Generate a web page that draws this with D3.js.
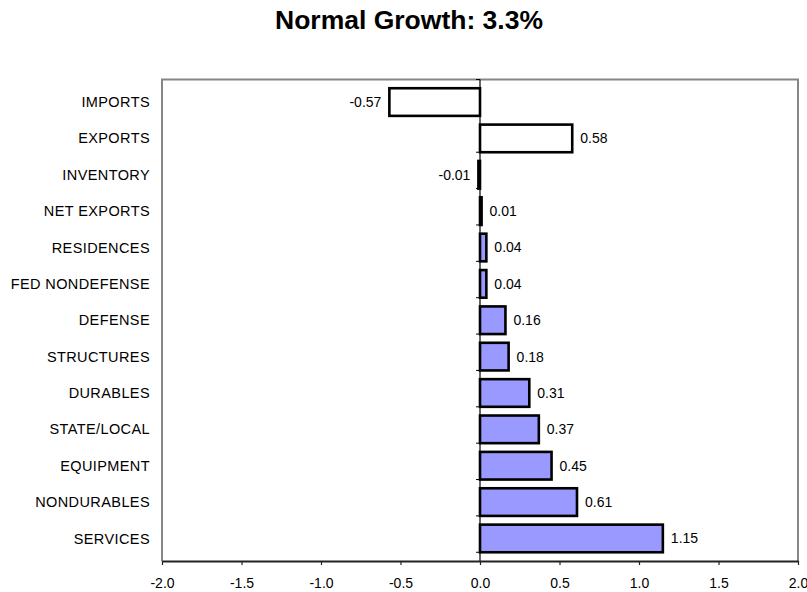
<!DOCTYPE html>
<html>
<head>
<meta charset="utf-8">
<script src="https://cdn.jsdelivr.net/npm/d3@7/dist/d3.min.js"></script>
<style>
  html, body { margin: 0; padding: 0; background: #fff; }
  svg { display: block; font-family: "Liberation Sans", Arial, sans-serif; }
</style>
</head>
<body>
<svg id="chart" width="807" height="592"></svg>
<script>
// Contributions to growth, listed top to bottom
const categories = ["IMPORTS", "EXPORTS", "INVENTORY", "NET EXPORTS", "RESIDENCES",
  "FED NONDEFENSE", "DEFENSE", "STRUCTURES", "DURABLES", "STATE/LOCAL",
  "EQUIPMENT", "NONDURABLES", "SERVICES"];
const values = [-0.57, 0.58, -0.01, 0.01, 0.04, 0.04, 0.16, 0.18, 0.31, 0.37, 0.45, 0.61, 1.15];
const tradeItems = ["IMPORTS", "EXPORTS"];
const xTicks = [-2.0, -1.5, -1.0, -0.5, 0.0, 0.5, 1.0, 1.5, 2.0];
const title = "Normal Growth: 3.3%";

const svg = d3.select("#chart");
const plot = { left: 162, right: 798, top: 79.5, bottom: 561 };

// plain hyphen for negatives
const fmt2 = v => d3.format(".2f")(v).replace("\u2212", "-");
const fmt1 = v => d3.format(".1f")(v).replace("\u2212", "-");

const x = d3.scaleLinear().domain([-2, 2]).range([plot.left, plot.right]);
const y = d3.scaleBand().domain(categories).range([plot.top, plot.bottom]).padding(0.24);

// Title
svg.append("text")
  .attr("x", 409).attr("y", 29)
  .attr("text-anchor", "middle")
  .style("font-size", "26.5px").style("font-weight", "bold")
  .text(title);

// Plot frame (top, left, right)
svg.append("path")
  .attr("d", `M${plot.left},${plot.bottom} V${plot.top} H${plot.right} V${plot.bottom}`)
  .attr("fill", "none").attr("stroke", "#868686").attr("stroke-width", 2);

// Category axis along zero, ticks at band boundaries
const zeroAxis = svg.append("g");
zeroAxis.append("line")
  .attr("x1", x(0)).attr("x2", x(0))
  .attr("y1", plot.top).attr("y2", plot.bottom)
  .attr("stroke", "#000").attr("stroke-width", 1.2);
const step = y.step();
zeroAxis.selectAll("line.tk")
  .data(d3.range(categories.length + 1))
  .join("line").attr("class", "tk")
  .attr("x1", x(0) - 4).attr("x2", x(0))
  .attr("y1", i => plot.top + i * step).attr("y2", i => plot.top + i * step)
  .attr("stroke", "#000").attr("stroke-width", 1);

// Bars
svg.append("g").selectAll("rect")
  .data(categories.map((c, i) => ({ c, v: values[i] })))
  .join("rect")
  .attr("x", d => x(Math.min(0, d.v)))
  .attr("y", d => y(d.c))
  .attr("width", d => Math.abs(x(d.v) - x(0)))
  .attr("height", y.bandwidth())
  .attr("fill", d => tradeItems.includes(d.c) ? "#ffffff" : "#9999ff")
  .attr("stroke", "#000").attr("stroke-width", 2.6);

// Value labels
svg.append("g").selectAll("text")
  .data(categories.map((c, i) => ({ c, v: values[i] })))
  .join("text")
  .attr("x", d => d.v < 0 ? x(d.v) - 8 : x(d.v) + 8)
  .attr("y", d => y(d.c) + y.bandwidth() / 2)
  .attr("dy", "0.35em")
  .attr("text-anchor", d => d.v < 0 ? "end" : "start")
  .style("font-size", "14px")
  .text(d => fmt2(d.v));

// Category labels at the left
svg.append("g").selectAll("text")
  .data(categories)
  .join("text")
  .attr("x", 150)
  .attr("y", d => y(d) + y.bandwidth() / 2)
  .attr("dy", "0.35em")
  .attr("text-anchor", "end")
  .style("font-size", "14.5px")
  .style("letter-spacing", "0.4px")
  .text(d => d);

// Value axis at the bottom
const xAxis = svg.append("g")
  .attr("transform", `translate(0,${plot.bottom})`)
  .call(d3.axisBottom(x).tickValues(xTicks).tickFormat(fmt1).tickSize(4).tickSizeOuter(0).tickPadding(13));
xAxis.select(".domain").attr("stroke", "#222").attr("stroke-width", 1.8);
xAxis.selectAll(".tick line").attr("stroke", "#222").attr("stroke-width", 1.2);
xAxis.selectAll(".tick text")
  .style("font-size", "14px")
  .style("font-family", "'Liberation Sans', Arial, sans-serif")
  .attr("fill", "#000");
</script>
</body>
</html>
